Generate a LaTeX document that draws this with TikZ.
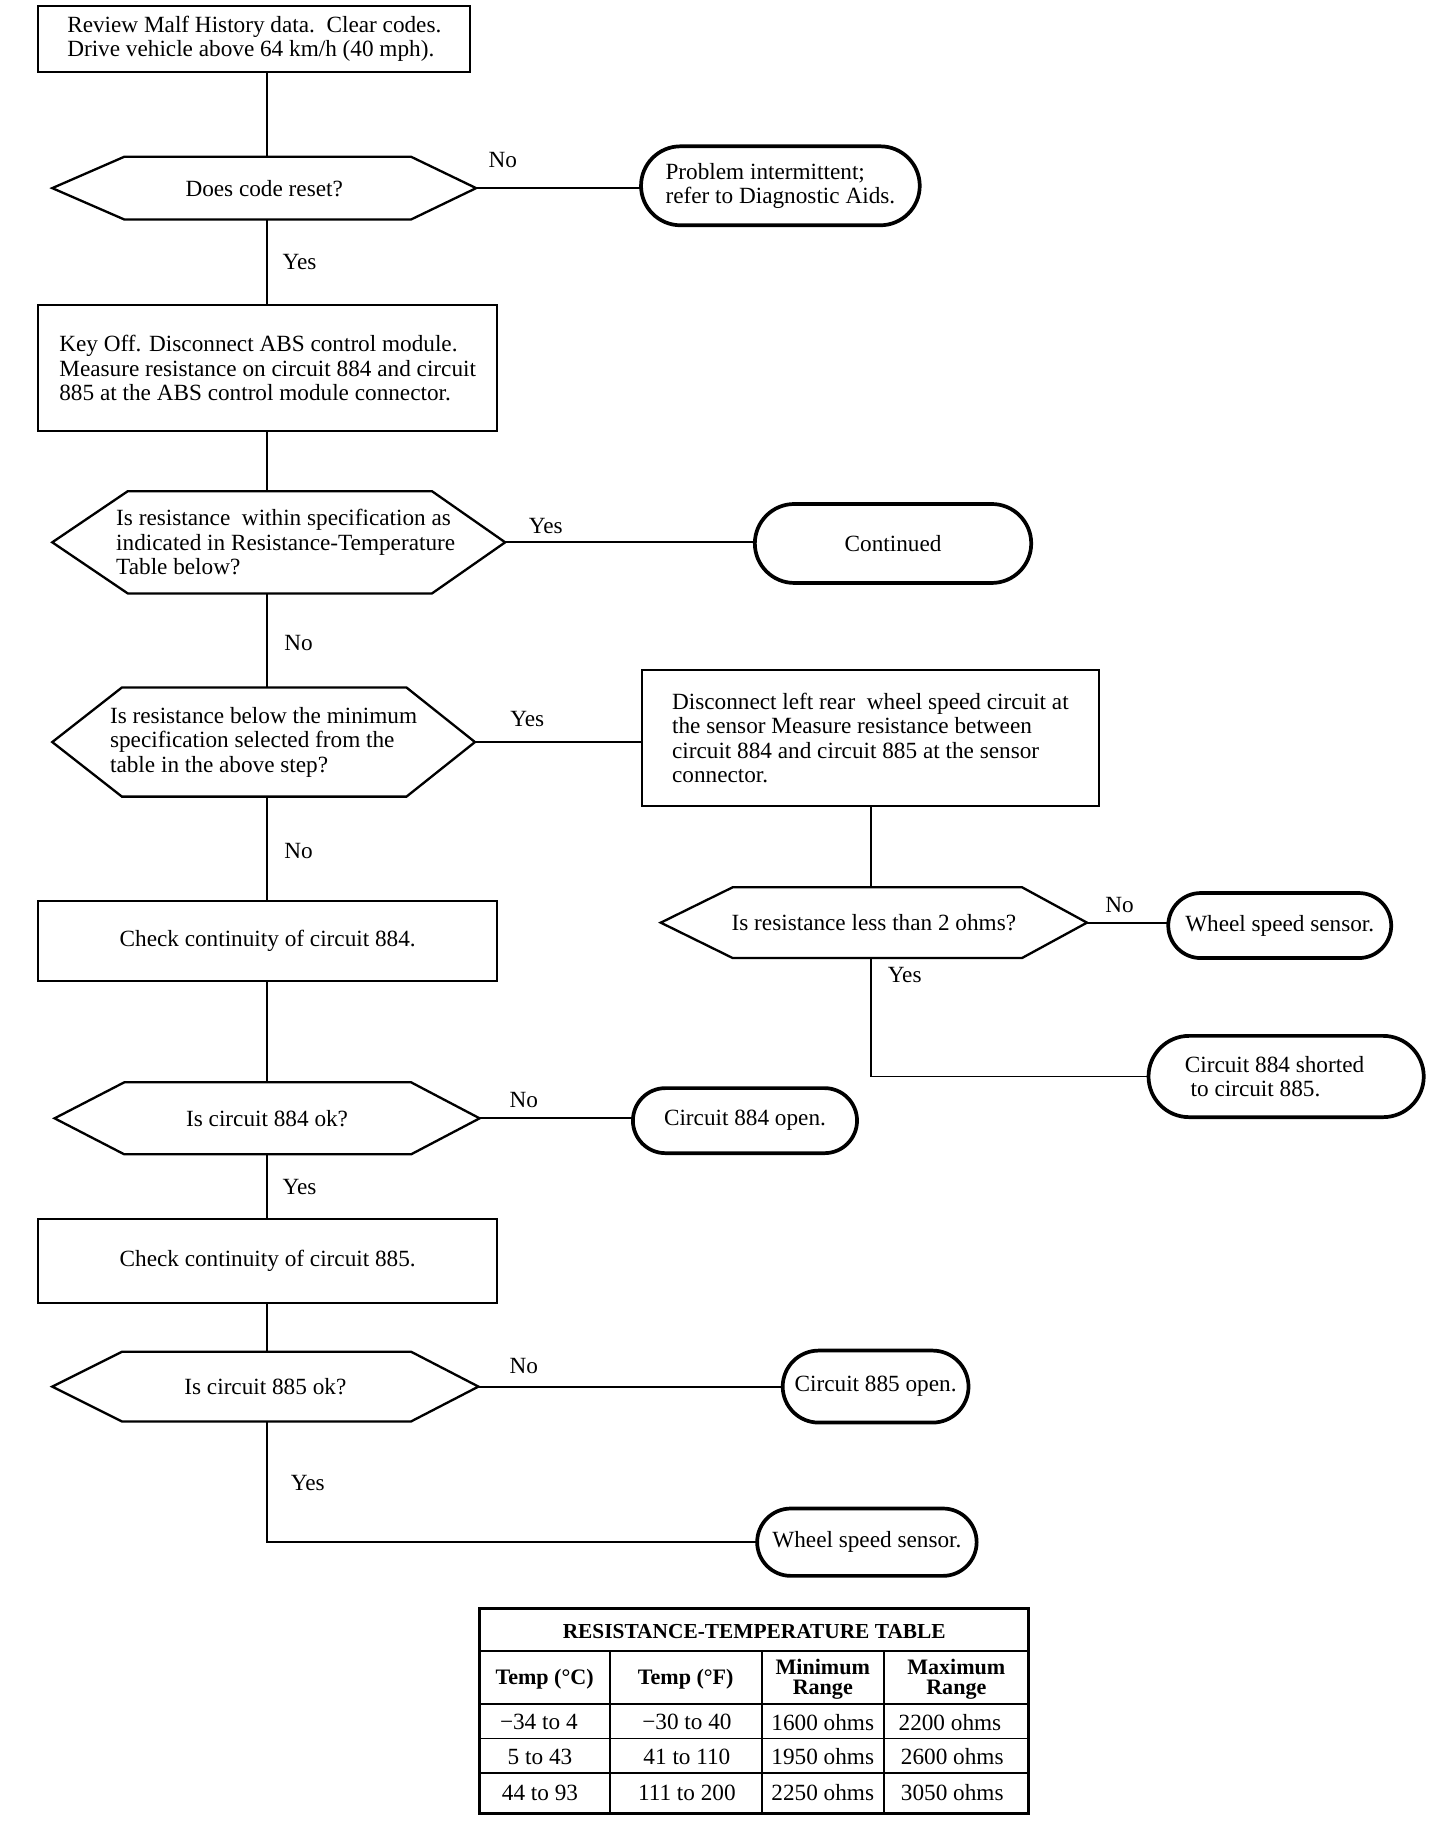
\documentclass[tikz,border=0pt]{standalone}
\usepackage{fontspec}
\setmainfont{Liberation Serif}
\usetikzlibrary{shapes.misc,calc}
\newcommand\place[7]{\node[#1, minimum width={(#5-#3)*0.5pt}, minimum height={(#6-#4)*0.5pt}] (#2) at ({(#3+#5)/2},{(#4+#6)/2}) {#7};}
\newcommand\hexdraw[3]{\draw[hexline] (#1.west) -- ($(#1.north west)+(#2,0)$) -- ($(#1.north east)-(#3,0)$) -- (#1.east) -- ($(#1.south east)-(#3,0)$) -- ($(#1.south west)+(#2,0)$) -- cycle;}
\begin{document}
\begin{tikzpicture}[x=0.5pt,y=-0.5pt,
  txt/.style={font=\fontsize{10}{10.5}\selectfont, inner sep=0pt, outer sep=0pt},
  procbox/.style={txt, draw, line width=0.9pt, rectangle, align=left},
  decnode/.style={txt, rectangle, align=left},
  termnode/.style={txt, draw, line width=1.6pt, rounded rectangle, align=left},
  hexline/.style={line width=1pt, line join=miter},
  conn/.style={line width=0.8pt},
  lbl/.style={txt},
  tabtxt/.style={font=\fontsize{10}{10.5}\selectfont, inner sep=0pt},
  tabhead/.style={font=\bfseries\fontsize{9.5}{8.5}\selectfont, inner sep=0pt, align=center},
  tabtitle/.style={font=\bfseries\fontsize{9.2}{10}\selectfont, inner sep=0pt},
]
\useasboundingbox[fill=white] (0,0) rectangle (1240,1572.4);
\coordinate (trunk) at (230,0);
\coordinate (trunkR) at (750,0);

% nodes
\place{procbox}{start}{33}{5}{405}{62}{Review Malf History data.\ \ Clear codes.\\Drive vehicle above 64 km/h (40 mph).}
\place{decnode}{q1}{45}{135}{410}{189}{Does code reset?}
\hexdraw{q1}{62}{56}
\place{termnode}{intermit}{552}{126}{792}{194}{Problem intermittent;\\refer to Diagnostic Aids.}
\place{procbox}{keyoff}{33}{263}{428}{371}{Key Off. Disconnect ABS control module.\\Measure resistance on circuit 884 and circuit\\885 at the ABS control module connector.}
\place{decnode}{q2}{45}{423}{435}{511}{\hspace*{6pt}Is resistance\ \ within specification as\\\hspace*{6pt}indicated in Resistance-Temperature\\\hspace*{6pt}Table below?}
\hexdraw{q2}{65}{63}
\place{termnode}{cont}{650}{434}{888}{502}{Continued}
\place{decnode}{q3}{45}{592}{409}{686}{Is resistance below the minimum\\specification selected from the\\table in the above step?}
\hexdraw{q3}{60}{59}
\place{procbox}{disc}{553}{577}{946}{694}{Disconnect left rear\ \ wheel speed circuit at\\the sensor Measure resistance between\\circuit 884 and circuit 885 at the sensor\\connector.}
\place{decnode}{q4}{569}{764}{936}{825}{Is resistance less than 2 ohms?}
\hexdraw{q4}{62}{56}
\place{termnode}{wss1}{1006}{769}{1198}{825}{Wheel speed sensor.}
\place{termnode}{short}{989}{892}{1226}{962}{Circuit 884 shorted\hspace*{10pt}\\\ to circuit 885.}
\place{procbox}{chk884}{33}{776}{428}{845}{Check continuity of circuit 884.}
\place{decnode}{q5}{47}{932}{413}{994}{Is circuit 884 ok?}
\hexdraw{q5}{60}{59}
\place{termnode}{open884}{545}{937}{738}{993}{Circuit 884 open.}
\place{procbox}{chk885}{33}{1050}{428}{1122}{Check continuity of circuit 885.}
\place{decnode}{q6}{45}{1164}{412}{1224}{Is circuit 885 ok?}
\hexdraw{q6}{60}{58}
\place{termnode}{open885}{674}{1163}{834}{1225}{Circuit 885 open.}
\place{termnode}{wss2}{652}{1299}{841}{1357}{Wheel speed sensor.}

% connectors
\draw[conn] (start.south -| trunk) -- (q1.north -| trunk);
\draw[conn] (q1.south -| trunk) -- (keyoff.north -| trunk);
\draw[conn] (keyoff.south -| trunk) -- (q2.north -| trunk);
\draw[conn] (q2.south -| trunk) -- (q3.north -| trunk);
\draw[conn] (q3.south -| trunk) -- (chk884.north -| trunk);
\draw[conn] (chk884.south -| trunk) -- (q5.north -| trunk);
\draw[conn] (q5.south -| trunk) -- (chk885.north -| trunk);
\draw[conn] (chk885.south -| trunk) -- (q6.north -| trunk);
\draw[conn] (q6.south -| trunk) |- (wss2.west);
\draw[conn] (disc.south -| trunkR) -- (q4.north -| trunkR);
\draw[conn] (q4.south -| trunkR) |- (short.west);
\draw[conn] (q1.east) -- (q1.east -| intermit.west);
\draw[conn] (q2.east) -- (q2.east -| cont.west);
\draw[conn] (q3.east) -- (q3.east -| disc.west);
\draw[conn] (q4.east) -- (q4.east -| wss1.west);
\draw[conn] (q5.east) -- (q5.east -| open884.west);
\draw[conn] (q6.east) -- (q6.east -| open885.west);

% labels
\node[lbl] (l1) at (433,138) {No};
\node[lbl] (l2) at (258,226) {Yes};
\node[lbl] (l3) at (470,453) {Yes};
\node[lbl] (l4) at (257,554) {No};
\node[lbl] (l5) at (454,619) {Yes};
\node[lbl] (l6) at (257,733) {No};
\node[lbl] (l7) at (964,779) {No};
\node[lbl] (l8) at (779,840) {Yes};
\node[lbl] (l9) at (451,947) {No};
\node[lbl] (l10) at (258,1022) {Yes};
\node[lbl] (l11) at (451,1176) {No};
\node[lbl] (l12) at (265,1277) {Yes};

% table
\draw[line width=1.3pt] (413,1385) rectangle (886,1562);
\draw[line width=0.8pt] (413,1422) -- (886,1422) (413,1467) -- (886,1467) (413,1497) -- (886,1497) (413,1527) -- (886,1527)
  (525,1422) -- (525,1562) (656,1422) -- (656,1562) (761,1422) -- (761,1562);
\node[tabtitle] (ttl) at (649.5,1405) {RESISTANCE-TEMPERATURE TABLE};
\node[tabhead] (h1) at (469,1446) {Temp (°C)};
\node[tabhead] (h2) at (590.5,1446) {Temp (°F)};
\node[tabhead] (h3) at (708.5,1446) {Minimum\\Range};
\node[tabhead] (h4) at (823.5,1446) {Maximum\\Range};
\node[tabtxt] (c11) at (464,1483) {−34 to 4};
\node[tabtxt] (c12) at (591.5,1483) {−30 to 40};
\node[tabtxt] (c13) at (708.5,1483) {1600 ohms};
\node[tabtxt] (c14) at (818,1483) {2200 ohms};
\node[tabtxt] (c21) at (465,1513) {5 to 43};
\node[tabtxt] (c22) at (591.5,1513) {41 to 110};
\node[tabtxt] (c23) at (708.5,1513) {1950 ohms};
\node[tabtxt] (c24) at (820,1513) {2600 ohms};
\node[tabtxt] (c31) at (465,1544) {44 to 93};
\node[tabtxt] (c32) at (591.5,1544) {111 to 200};
\node[tabtxt] (c33) at (708.5,1544) {2250 ohms};
\node[tabtxt] (c34) at (820,1544) {3050 ohms};
\end{tikzpicture}
\end{document}
